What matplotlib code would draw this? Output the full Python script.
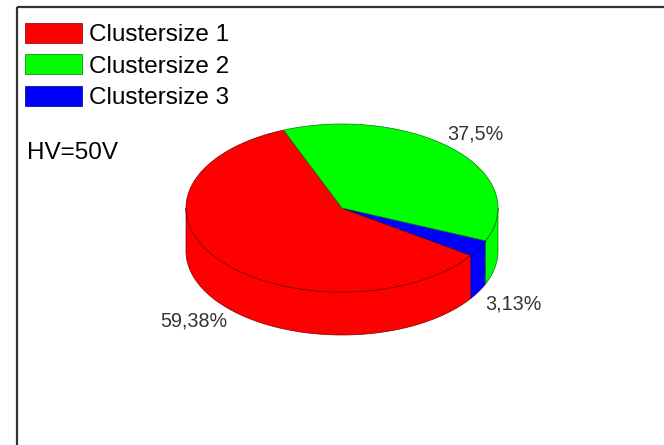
import numpy as np
import matplotlib.pyplot as plt
from matplotlib.patches import Polygon, Patch

plt.rcParams['font.family'] = ['Liberation Sans', 'DejaVu Sans']

# cluster size fractions at HV=50V
labels = ['Clustersize 1', 'Clustersize 2', 'Clustersize 3']
shares = [59.38, 37.5, 3.13]
share_text = ['59,38%', '37,5%', '3,13%']
colors = ['#ff0000', '#00ff00', '#0000ff']
edges = ['#7a0000', '#007a00', '#00007a']

# drawing order of the slices (counter-clockwise from the start angle)
order = [0, 2, 1]
start_deg = 112.0
ry = 84 / 156      # flattening of the top ellipse
depth = 43 / 156   # height of the cylinder wall
# small label nudges (x, y) in radius units
nudge = {0: (0.02, -0.025), 1: (-0.035, 0.0), 2: (0.0, -0.015)}

W, H = 664, 445
fig = plt.figure(figsize=(W / 100, H / 100), dpi=100)
ax = fig.add_axes([0, 0, 1, 1])
cx, cy, r_px = 342, 208, 156
ax.set_xlim(-cx / r_px, (W - cx) / r_px)
ax.set_ylim(-(H - cy) / r_px, cy / r_px)
ax.set_aspect('equal')
ax.axis('off')


def arc(t0, t1, dy=0.0):
    t = np.radians(np.linspace(t0, t1, 200))
    return np.column_stack([np.cos(t), ry * np.sin(t) + dy])


total = sum(shares)
spans = {}
a = start_deg
for i in order:
    span = shares[i] / total * 360
    spans[i] = (a, a + span)
    a += span

# front walls
for i in order:
    t0, t1 = spans[i]
    for k in (0, 360):
        lo, hi = max(t0, 180 + k), min(t1, 360 + k)
        if hi > lo:
            top = arc(lo, hi)
            bot = arc(hi, lo, -depth)
            ax.add_patch(Polygon(np.vstack([top, bot]), closed=True,
                                 facecolor=colors[i], edgecolor=edges[i],
                                 lw=0.5, zorder=2))

# top faces
for i in order:
    t0, t1 = spans[i]
    pts = np.vstack([[0, 0], arc(t0, t1)])
    ax.add_patch(Polygon(pts, closed=True, facecolor=colors[i],
                         edgecolor=edges[i], lw=0.5, zorder=3))

# percentage labels
for i in order:
    t0, t1 = spans[i]
    m = np.radians((t0 + t1) / 2)
    x = 1.25 * np.cos(m) + nudge[i][0]
    y = 1.25 * ry * np.sin(m) + nudge[i][1]
    if np.sin(m) < 0:
        y -= depth
    ax.text(x, y, share_text[i], fontsize=14.2, color='#333333',
            ha='center', va='center', zorder=4)

# frame
ax.plot([(17 - cx) / r_px, (W - cx) / r_px], [(cy - 7) / r_px] * 2,
        color='#333333', lw=1.6, solid_capstyle='butt', zorder=5)
ax.plot([(17 - cx) / r_px] * 2, [(cy - 7) / r_px, -(H - cy) / r_px],
        color='#333333', lw=1.6, solid_capstyle='butt', zorder=5)

handles = [Patch(facecolor=c, edgecolor=e, lw=0.5) for c, e in zip(colors, edges)]
fig.legend(handles, labels, loc='upper left',
           bbox_to_anchor=(25 / W, 1 - 23 / H), frameon=False, fontsize=17.5,
           handlelength=2.35, handleheight=0.9, handletextpad=0.3,
           labelspacing=0.32, borderpad=0, borderaxespad=0)

fig.text(27 / W, 1 - 153 / H, 'HV=50V', fontsize=17.5, va='center', ha='left')

fig.savefig('out.png', dpi=100)
